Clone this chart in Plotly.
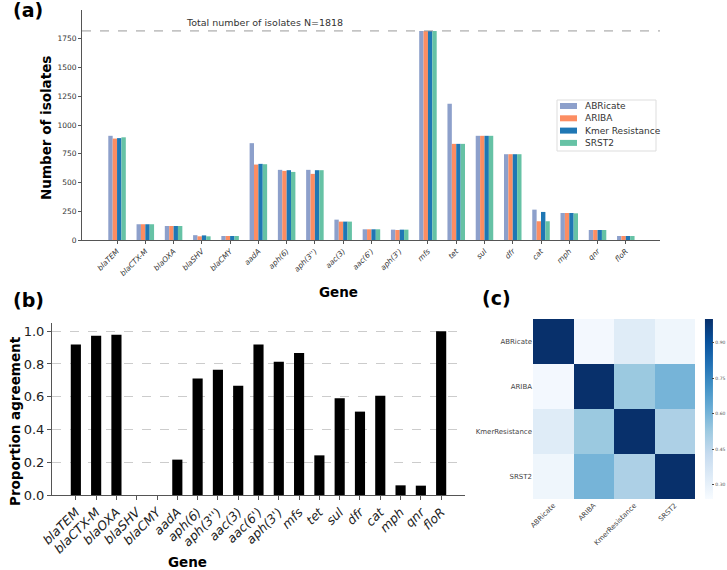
import plotly.graph_objects as go
import plotly.express as px

W, H = 727, 570
FONT = "DejaVu Sans"

# panel (a) data
genes = ["blaTEM", "blaCTX-M", "blaOXA", "blaSHV", "blaCMY", "aadA", "aph(6)", "aph(3'')",
         "aac(3)", "aac(6')", "aph(3')", "mfs", "tet", "sul", "dfr", "cat", "mph", "qnr", "floR"]
abricate = [906, 137, 122, 42, 35, 842, 610, 610, 177, 93, 90, 1818, 1185, 906, 746, 264, 235, 87, 35]
ariba = [882, 137, 122, 32, 35, 656, 601, 575, 160, 93, 87, 1818, 836, 906, 746, 163, 235, 87, 35]
kmer = [886, 137, 122, 40, 35, 662, 607, 607, 160, 93, 90, 1818, 836, 906, 746, 244, 235, 87, 35]
srst2 = [893, 137, 122, 32, 35, 659, 592, 607, 160, 93, 90, 1818, 836, 906, 746, 163, 232, 87, 35]
n_total = 1818

# panel (b) data
agreement = [0.919, 0.972, 0.978, 0.0, 0.0, 0.216, 0.711, 0.764, 0.667, 0.919, 0.814, 0.867,
             0.242, 0.590, 0.509, 0.606, 0.059, 0.057, 1.0]

# panel (c) data
tools = ["ABRicate", "ARIBA", "KmerResistance", "SRST2"]
similarity = [
    [1.0, 0.255, 0.33, 0.27],
    [0.255, 1.0, 0.53, 0.60],
    [0.33, 0.53, 1.0, 0.49],
    [0.27, 0.60, 0.49, 1.0],
]


def px_x(p):
    return p / W


def px_y(p):
    return 1 - p / H


fig = go.Figure()

series = [("ABRicate", abricate, "#8da0cb"), ("ARIBA", ariba, "#fc8d62"),
          ("Kmer Resistance", kmer, "#1f77b4"), ("SRST2", srst2, "#66c2a5")]
for name, vals, col in series:
    fig.add_trace(go.Bar(x=list(range(len(genes))), y=vals, name=name, marker_color=col,
                         marker_line_width=0, showlegend=False, xaxis="x", yaxis="y"))

fig.add_trace(go.Bar(x=list(range(len(genes))), y=agreement, width=0.5, marker_color="black",
                     marker_line_width=0, showlegend=False, xaxis="x2", yaxis="y2"))

fig.add_trace(go.Heatmap(z=similarity, x=tools, y=tools, colorscale=px.colors.sequential.Blues,
                         zmin=0.24, zmax=1.0, xaxis="x3", yaxis="y3", showscale=True,
                         colorbar=dict(x=1.0, xanchor="right", thickness=8, xpad=1, ypad=0,
                                       len=180 / H, y=px_y(409), yanchor="middle",
                                       outlinewidth=0, ticks="outside", ticklen=2,
                                       tickvals=[0.30, 0.45, 0.60, 0.75, 0.90],
                                       tickformat=".2f",
                                       tickfont=dict(size=4.5, color="#555"))))

fig.add_shape(type="line", xref="x domain", yref="y", x0=0, x1=1, y0=n_total, y1=n_total,
              line=dict(color="#999", width=1, dash="dash"))

# legend box for panel (a), drawn by hand to keep the compact row spacing
leg_left, leg_top, leg_right, leg_bottom = 557, 100, 656, 151
fig.add_shape(type="rect", xref="paper", yref="paper",
              x0=px_x(leg_left), x1=px_x(leg_right), y0=px_y(leg_bottom), y1=px_y(leg_top),
              line=dict(color="#dddddd", width=1), fillcolor="white")
for i, (name, vals, col) in enumerate(series):
    row_y = 106 + i * 12.3
    fig.add_shape(type="rect", xref="paper", yref="paper",
                  x0=px_x(560), x1=px_x(577), y0=px_y(row_y + 3), y1=px_y(row_y - 3),
                  line_width=0, fillcolor=col)
    fig.add_annotation(text=name, x=px_x(583), y=px_y(row_y), xref="paper", yref="paper",
                       xanchor="left", yanchor="middle", showarrow=False,
                       font=dict(size=9, color="#333"))

axis_common = dict(showline=True, linecolor="#555", linewidth=1, zeroline=False, showgrid=False,
                   automargin=False)

fig.update_layout(
    width=W, height=H, margin=dict(l=0, r=0, t=0, b=0),
    paper_bgcolor="white", plot_bgcolor="white",
    font=dict(family=FONT, color="#333"),
    showlegend=False,
    barmode="group", bargap=0.38, bargroupgap=0,
    xaxis=dict(domain=[px_x(82), px_x(660)], anchor="y", range=[-1.24, 19.21],
               tickmode="array", tickvals=list(range(len(genes))),
               ticktext=[f"<i>{g}</i>" for g in genes], tickangle=-45,
               tickfont=dict(size=7.5, color="#333"), ticks="outside", ticklen=3,
               tickcolor="#555", **axis_common),
    yaxis=dict(domain=[px_y(240), px_y(10)], anchor="x", range=[0, 2000],
               tickvals=[0, 250, 500, 750, 1000, 1250, 1500, 1750],
               tickfont=dict(size=7.5, color="#333"), ticks="outside", ticklen=3,
               tickcolor="#555", **axis_common),
    xaxis2=dict(domain=[px_x(52), px_x(465)], anchor="y2", range=[-1.175, 19.175],
                tickmode="array", tickvals=list(range(len(genes))),
                ticktext=[f"<i>{g}</i>" for g in genes], tickangle=-45,
                tickfont=dict(size=12.5, color="#222"), ticks="outside", ticklen=4,
                tickcolor="#555", **axis_common),
    yaxis2=dict(domain=[px_y(495), px_y(323)], anchor="x2", range=[0, 1.05],
                tickvals=[0, 0.2, 0.4, 0.6, 0.8, 1.0], tickformat=".1f",
                tickfont=dict(size=13, color="#222"), ticks="outside", ticklen=4,
                tickcolor="#555", showline=True, linecolor="#555", linewidth=1,
                zeroline=False, showgrid=True, gridcolor="#cccccc", griddash="dash",
                gridwidth=1, automargin=False),
    xaxis3=dict(domain=[px_x(533), px_x(695)], anchor="y3", tickangle=-45,
                tickfont=dict(size=7, color="#444"), showline=False, showgrid=False,
                zeroline=False, ticks="", automargin=False),
    yaxis3=dict(domain=[px_y(499), px_y(319)], anchor="x3", autorange="reversed",
                tickfont=dict(size=7, color="#444"), showline=False, showgrid=False,
                zeroline=False, ticks="", automargin=False),
)

annotations = [
    dict(text="Total number of isolates N=1818", x=5.2, y=n_total, xref="x", yref="y",
         yanchor="bottom", showarrow=False, font=dict(size=9.5, color="#333"), yshift=1),
    dict(text="<b>(a)</b>", x=px_x(28), y=px_y(10), font=dict(size=19, color="black")),
    dict(text="<b>(b)</b>", x=px_x(28), y=px_y(300), font=dict(size=19, color="black")),
    dict(text="<b>(c)</b>", x=px_x(497), y=px_y(298), font=dict(size=19, color="black")),
    dict(text="<b>Gene</b>", x=px_x(338), y=px_y(292), font=dict(size=13.5, color="black")),
    dict(text="<b>Number of isolates</b>", x=px_x(46), y=px_y(128), textangle=-90,
         font=dict(size=13.5, color="black")),
    dict(text="<b>Gene</b>", x=px_x(187), y=px_y(562), font=dict(size=13.5, color="black")),
    dict(text="<b>Proportion agreement</b>", x=px_x(15), y=px_y(421), textangle=-90,
         font=dict(size=13.5, color="black")),
]
for a in annotations:
    a.setdefault("xref", "paper")
    a.setdefault("yref", "paper")
    a.setdefault("showarrow", False)
    a.setdefault("xanchor", "center")
    a.setdefault("yanchor", "middle")
    fig.add_annotation(**a)

# drop the default page margin so the figure sits at the window's top-left corner
fig.write_html("out.html", config={"displayModeBar": False},
               post_script="document.body.style.margin='0';")
